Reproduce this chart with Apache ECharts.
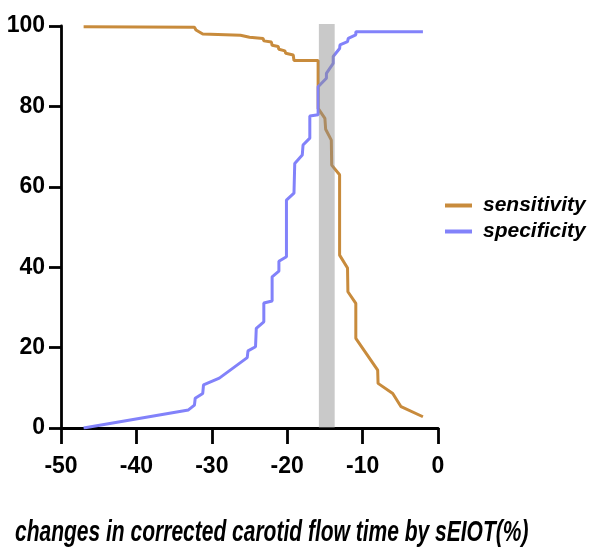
<!DOCTYPE html>
<html>
<head>
<meta charset="utf-8">
<script src="https://cdn.jsdelivr.net/npm/echarts@6/dist/echarts.min.js"></script>
<style>html,body{margin:0;padding:0;background:#fff;}#c{width:594px;height:549px;}</style>
</head>
<body>
<div id="c"></div>
<script>
// ---- data ----
const xTicks = [-50, -40, -30, -20, -10, 0];
const yTicks = [0, 20, 40, 60, 80, 100];
const seriesNames = ['sensitivity', 'specificity'];
const sensX = [-47.0, -32.3, -32.1, -31.2, -26.2, -25.0, -23.2, -23.1, -22.1, -22.0, -21.2, -21.1, -20.3, -20.2, -19.2, -19.1, -15.9, -15.9, -15.0, -14.9, -14.15, -14.1, -13.05, -13.05, -12.0, -11.95, -10.9, -10.9, -8.0, -7.95, -6.0, -4.9, -2.0];
const sensY = [99.8, 99.7, 99.0, 98.0, 97.7, 97.2, 96.9, 96.3, 96.0, 95.2, 94.9, 94.2, 93.8, 93.2, 92.8, 91.4, 91.4, 79.5, 77.0, 74.3, 71.6, 65.4, 63.0, 43.0, 39.8, 33.9, 31.0, 22.3, 14.4, 11.1, 8.6, 5.3, 2.8];
const specX = [-47.0, -33.1, -32.3, -32.2, -31.2, -31.1, -29.0, -25.3, -25.2, -24.2, -24.1, -23.1, -23.1, -22.0, -22.0, -21.1, -21.1, -20.1, -20.1, -19.1, -19.0, -18.0, -17.9, -17.0, -17.0, -15.9, -15.9, -14.8, -14.8, -13.9, -13.9, -13.05, -13.0, -12.0, -11.9, -10.9, -10.9, -2.0];
const specY = [0, 4.5, 5.7, 7.4, 8.6, 10.7, 12.4, 17.5, 19.2, 20.2, 24.8, 26.4, 31.1, 31.6, 37.6, 39.0, 41.5, 42.6, 56.7, 58.4, 65.8, 67.9, 70.4, 72.1, 77.6, 77.9, 84.9, 87.0, 88.2, 90.7, 92.4, 94.4, 95.3, 96.1, 96.9, 97.8, 98.6, 98.6];
const band = [-15.8, -13.7];
const xTitle = 'changes in corrected carotid flow time by sEIOT(%)';

const zip = (xs, ys) => xs.map((x, i) => [x, ys[i]]);
const FONT = "'Liberation Sans', Arial, sans-serif";

const chart = echarts.init(document.getElementById('c'), null, {renderer: 'canvas'});
chart.setOption({
  animation: false,
  backgroundColor: '#fff',
  grid: {left: 61, right: 156, top: 26, bottom: 121, containLabel: false},
  graphic: [{
    type: 'text', x: 15, y: 533, scaleX: 0.70, silent: true,
    style: {text: xTitle, fill: '#000', fontFamily: FONT, fontSize: 30, fontWeight: 'bold',
      fontStyle: 'italic', verticalAlign: 'middle', align: 'left'}
  }],
  legend: {
    data: seriesNames, orient: 'vertical', left: 440, top: 189, itemGap: 3,
    icon: 'rect', itemWidth: 27, itemHeight: 4,
    textStyle: {fontFamily: FONT, fontSize: 21, lineHeight: 23, fontWeight: 'bold', fontStyle: 'italic',
      color: '#000', padding: [0, 0, 0, 6]}
  },
  xAxis: {
    type: 'value', min: -50, max: 0, interval: 10,
    axisLine: {show: true, onZero: false, lineStyle: {color: '#000', width: 2.8}},
    axisTick: {show: true, length: 16, lineStyle: {color: '#000', width: 2.8}},
    axisLabel: {margin: 27, color: '#000', fontFamily: FONT, fontSize: 23, fontWeight: 'bold',
      formatter: v => xTicks.includes(v) ? String(v) : ''},
    splitLine: {show: false}
  },
  yAxis: {
    type: 'value', min: 0, max: 100, interval: 20,
    axisLine: {show: true, onZero: false, lineStyle: {color: '#000', width: 2.8}},
    axisTick: {show: true, length: 12, lineStyle: {color: '#000', width: 2.8}},
    axisLabel: {margin: 16, color: '#000', fontFamily: FONT, fontSize: 23, fontWeight: 'bold',
      formatter: v => yTicks.includes(v) ? String(v) : ''},
    splitLine: {show: false}
  },
  series: [
    {name: seriesNames[0], type: 'line', data: zip(sensX, sensY), showSymbol: false, z: 3,
      color: '#c88b3c', lineStyle: {width: 3, color: '#c88b3c'}},
    {name: seriesNames[1], type: 'line', data: zip(specX, specY), showSymbol: false, z: 3,
      color: '#8282fa', lineStyle: {width: 3, color: '#8282fa'}},
    {name: 'band', type: 'custom', z: 10, silent: true, data: [band],
      encode: {x: [0, 1]},
      renderItem: (params, api) => {
        const p0 = api.coord([api.value(0), 100.5]);
        const p1 = api.coord([api.value(1), 0]);
        return {type: 'rect', shape: {x: p0[0], y: p0[1], width: p1[0] - p0[0], height: p1[1] - p0[1]},
          style: {fill: 'rgba(140,140,140,0.47)'}};
      }}
  ]
});
</script>
</body>
</html>
